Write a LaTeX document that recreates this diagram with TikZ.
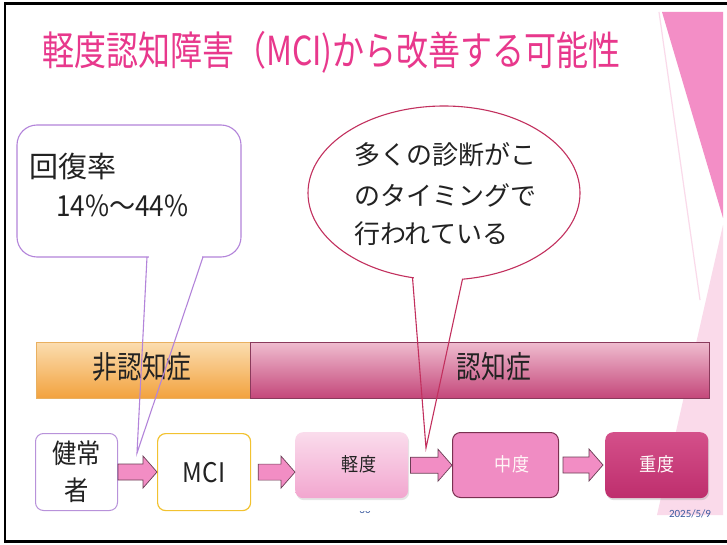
\documentclass[tikz,border=0pt]{standalone}
\usepackage{fontspec}
\newfontfamily\jp{Noto Sans CJK JP}
\newfontfamily\jpc[FakeStretch=0.8]{Noto Sans CJK JP}
\newfontfamily\jpm[FakeStretch=0.9]{Noto Sans CJK JP}
\newfontfamily\dfont{Carlito}
\usetikzlibrary{calc,shadows}
\definecolor{titlepink}{HTML}{E8388C}
\definecolor{decopink}{HTML}{F38EC6}
\definecolor{decolight}{HTML}{FADAEA}
\definecolor{orangetop}{HTML}{FBDDB0}
\definecolor{orangebot}{HTML}{F2A23E}
\definecolor{orangeline}{HTML}{E9B060}
\definecolor{magtop}{HTML}{EFBCCF}
\definecolor{magbot}{HTML}{C4477A}
\definecolor{magline}{HTML}{8A3A5C}
\definecolor{calloutA}{HTML}{B384DA}
\definecolor{calloutB}{HTML}{C2305E}
\definecolor{healthline}{HTML}{B892DA}
\definecolor{mciline}{HTML}{F2C230}
\definecolor{mildtop}{HTML}{FADCEC}
\definecolor{mildbot}{HTML}{F2A6CF}
\definecolor{modfill}{HTML}{F08CC3}
\definecolor{modline}{HTML}{7A3050}
\definecolor{sevtop}{HTML}{D4508A}
\definecolor{sevbot}{HTML}{BE2E6D}
\definecolor{arrowpink}{HTML}{F28DC4}
\definecolor{arrowline}{HTML}{6B3E55}
\definecolor{datecol}{HTML}{3B5BA0}
\definecolor{txt}{HTML}{222222}
\begin{document}
\begin{tikzpicture}[x=1pt,y=-1pt,
  stagebox/.style={anchor=north west, inner sep=0pt, rounded corners=8pt},
  barbox/.style={anchor=north west, inner sep=0pt, minimum height=56},
  barlabel/.style={inner sep=0pt, text=txt, font=\jpc\fontsize{31}{31}\selectfont},
  barrow/.style 2 args={fill=arrowpink, draw=arrowline, line width=0.7pt,
    to path={let \p1=(\tikztostart.east), \p2=(\tikztotarget.west) in
      (\x1+#1,\y1+8pt) -- (\x2-#2-14pt,\y1+8pt) -- (\x2-#2-14pt,\y1+16pt)
      -- (\x2-#2,\y1) -- (\x2-#2-14pt,\y1-16pt) -- (\x2-#2-14pt,\y1-8pt)
      -- (\x1+#1,\y1-8pt) -- cycle}},
  callA/.style={draw=calloutA, line width=1.1pt},
  callB/.style={draw=calloutB, line width=1.1pt},
  calltext/.style={anchor=west, inner sep=0pt, text=txt}
]
\useasboundingbox (0,0) rectangle (727,545);
\fill[white] (0,0) rectangle (727,545);

% decoration on the right
\fill[decopink] (662,12) -- (723,12) -- (723,218) -- cycle;
\fill[decolight] (723,225) -- (723,515) -- (657,515) -- cycle;
\draw[decolight, line width=1.2pt] (659,12) -- (700,300);

% title
\node[anchor=west, inner sep=0pt, text=titlepink, font=\jpc\fontsize{40}{40}\selectfont] (title) at (42,52) {軽度認知障害（MCI)から改善する可能性};

% bar
\node[barbox, minimum width=214, top color=orangetop, bottom color=orangebot, draw=orangeline, line width=0.6pt] (nondem) at (36,342) {};
\node[barbox, minimum width=459, top color=magtop, bottom color=magbot, draw=magline, line width=0.6pt] (dem) at (250,342) {};
\node[barlabel] (nondemlabel) at (142,367) {非認知症};
\node[barlabel] (demlabel) at (494,367) {認知症};

% stage boxes
\node[stagebox, draw=healthline, line width=1pt, fill=white, minimum width=82, minimum height=77, align=center, text=txt,
  font=\jpm\fontsize{27}{37}\selectfont] (healthy) at (35,433) {健常\\者};
\node[stagebox, draw=mciline, line width=1.2pt, fill=white, minimum width=93, minimum height=77, text=txt,
  font=\jpm\fontsize{27}{27}\selectfont] (mci) at (157,433) {MCI};
\node[stagebox, top color=mildtop, bottom color=mildbot, minimum width=113, minimum height=66,
  drop shadow={shadow xshift=1pt, shadow yshift=-2pt, opacity=0.2}] (mild) at (295,432) {};
\node[stagebox, fill=modfill, draw=modline, line width=1pt, minimum width=106, minimum height=65] (moderate) at (452,432) {};
\node[stagebox, top color=sevtop, bottom color=sevbot, minimum width=103, minimum height=66,
  drop shadow={shadow xshift=1pt, shadow yshift=-2pt, opacity=0.25}] (severe) at (605,432) {};
\node[inner sep=0pt, text=txt, font=\jpm\fontsize{19}{19}\selectfont] (mildlabel) at (359,464) {軽度};
\node[inner sep=0pt, text=white!85!pink, font=\jpm\fontsize{19}{19}\selectfont] (modlabel) at (512,464) {中度};
\node[inner sep=0pt, text=white!90!pink, font=\jpm\fontsize{19}{19}\selectfont] (sevlabel) at (657,464) {重度};

% block arrows
\draw[barrow={0pt}{0pt}] (healthy) to (mci);
\draw[barrow={7pt}{0pt}] (mci) to (mild);
\draw[barrow={2pt}{0pt}] (mild) to (moderate);
\draw[barrow={4pt}{2pt}] (moderate) to (severe);

% callout 1
\draw[callA, rounded corners=20pt] (17,125) rectangle (241,257);
\draw[white, line width=2.5pt] (148.5,257) -- (201.5,257);
\coordinate (tipA) at (137,453);
\draw[callA, line join=miter] (147,257) -- (tipA) -- (203,257);
\node[calltext, font=\jp\fontsize{29}{29}\selectfont] (rate) at (29,166) {回復率};
\node[calltext, font=\jpm\fontsize{29}{29}\selectfont] (ratenum) at (56,206) {14\%～44\%};

% callout 2
\draw[callB] (444,193) ellipse [x radius=136, y radius=87];
\fill[white] (413.5,270) rectangle (461.5,286);
\coordinate (tipB) at (426,448);
\draw[callB] (412.5,277.6) -- (tipB) -- (462.5,279.1);
\node[calltext, font=\jp\fontsize{26}{26}\selectfont] (l1) at (354,155) {多くの診断がこ};
\node[calltext, font=\jp\fontsize{26}{26}\selectfont] (l2) at (354,195) {のタイミングで};
\node[calltext, font=\jp\fontsize{26}{26}\selectfont] (l3) at (354,234) {行われている};

% footer
\begin{scope}
  \clip (350,511) rectangle (380,522);
  \node[inner sep=0pt, text=datecol, font=\dfont\fontsize{11}{11}\selectfont] (slideno) at (365,510) {30};
\end{scope}
\node[inner sep=0pt, text=datecol, font=\dfont\fontsize{11}{11}\selectfont] (date) at (690,514) {2025/5/9};

% frame
\draw[black, line width=2.5pt] (740,3.5) -- (5,3.5) -- (5,541.5) -- (740,541.5);
\end{tikzpicture}
\end{document}
